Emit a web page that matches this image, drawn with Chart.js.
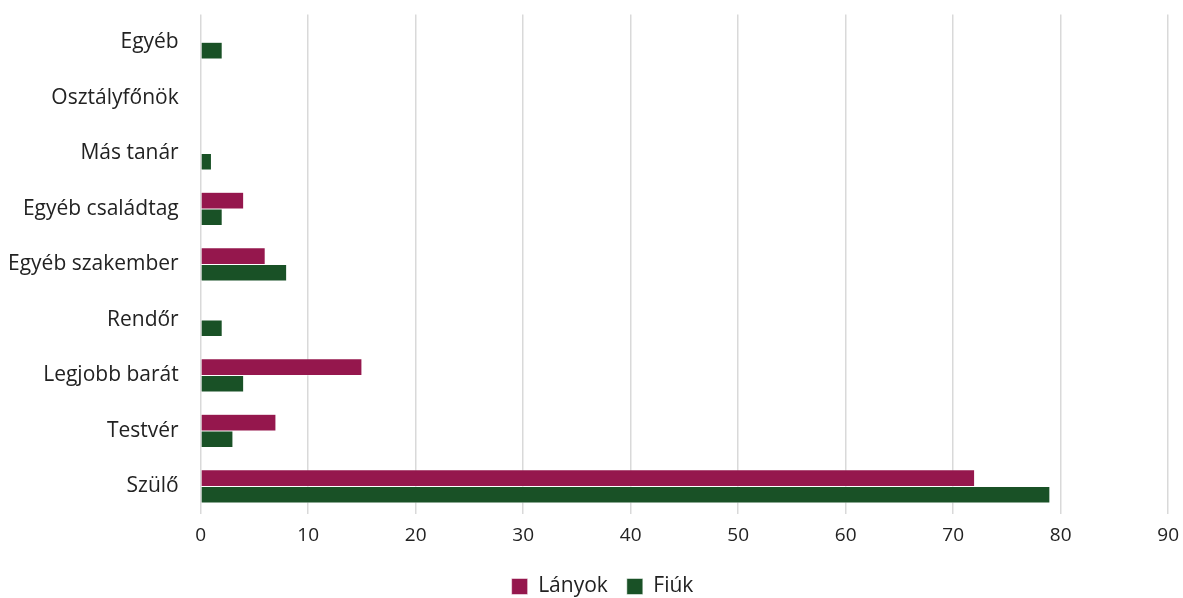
<!DOCTYPE html>
<html>
<head>
<meta charset="utf-8">
<script src="https://cdn.jsdelivr.net/npm/chart.js@4/dist/chart.umd.min.js"></script>
<style>
html, body { margin: 0; padding: 0; background: #fff; }
#wrap { width: 1183px; height: 598px; position: relative; }
</style>
</head>
<body>
<div id="wrap"><canvas id="abra"></canvas></div>
<script>
var kategoriak = ['Egyéb', 'Osztályfőnök', 'Más tanár', 'Egyéb családtag', 'Egyéb szakember', 'Rendőr', 'Legjobb barát', 'Testvér', 'Szülő'];
var lanyok = [0, 0, 0, 4, 6, 0, 15, 7, 72];
var fiuk = [2, 0, 1, 2, 8, 2, 4, 3, 79];
var xTickek = [0, 10, 20, 30, 40, 50, 60, 70, 80, 90];

var ctx = document.getElementById('abra').getContext('2d');
Chart.defaults.font.family = '"Open Sans", Lato, sans-serif';

new Chart(ctx, {
    type: 'bar',
    data: {
        labels: kategoriak,
        datasets: [
            {
                label: 'Lányok',
                data: lanyok,
                backgroundColor: '#95174D',
                borderColor: '#ffffff',
                borderWidth: 0.5,
                barPercentage: 1,
                categoryPercentage: 0.6
            },
            {
                label: 'Fiúk',
                data: fiuk,
                backgroundColor: '#195126',
                borderColor: '#ffffff',
                borderWidth: 0.5,
                barPercentage: 1,
                categoryPercentage: 0.6
            }
        ]
    },
    options: {
        indexAxis: 'y',
        responsive: true,
        maintainAspectRatio: false,
        animation: false,
        layout: {
            padding: { left: 6, right: -16, top: 0, bottom: -9 }
        },
        scales: {
            x: {
                min: 0,
                max: 90,
                afterBuildTicks: function (axis) {
                    axis.ticks = xTickek.map(function (v) { return { value: v }; });
                },
                afterFit: function (axis) {
                    axis.height += 6;
                },
                ticks: {
                    color: '#222',
                    font: { size: 19 },
                    padding: 4
                },
                grid: {
                    color: '#d9d9d9',
                    lineWidth: 1.5,
                    drawTicks: true,
                    tickLength: 6,
                    tickColor: 'rgba(0,0,0,0)'
                },
                border: { display: false }
            },
            y: {
                ticks: {
                    color: '#222',
                    font: { size: 21 },
                    padding: 2
                },
                grid: {
                    display: true,
                    drawOnChartArea: false,
                    drawTicks: true,
                    tickLength: 20,
                    color: 'rgba(0,0,0,0)'
                },
                border: { display: false }
            }
        },
        plugins: {
            legend: {
                position: 'bottom',
                labels: {
                    color: '#222',
                    font: { size: 21 },
                    boxWidth: 16,
                    boxHeight: 16,
                    padding: 19
                }
            },
            tooltip: { enabled: false }
        }
    }
});
</script>
</body>
</html>
